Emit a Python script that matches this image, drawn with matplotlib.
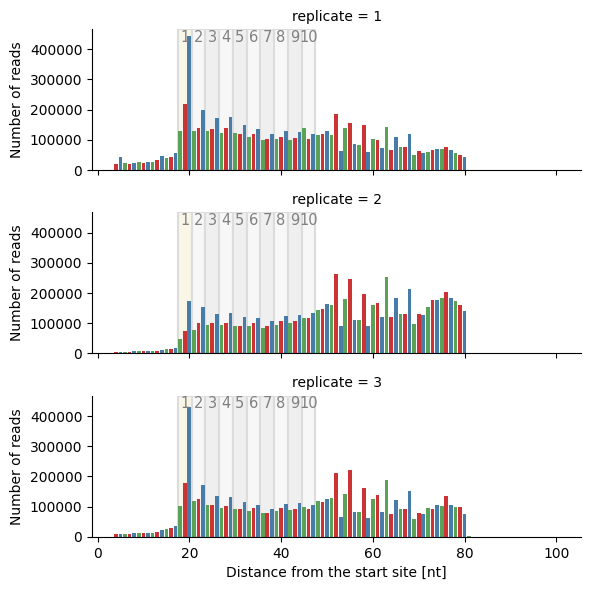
import numpy as np
import matplotlib
matplotlib.use("Agg")
import matplotlib.pyplot as plt

# read counts per position (nt from the start site), positions 4..81
positions = list(range(4, 82))

reads_rep1 = [
    20, 43, 23, 20, 23, 27, 23, 27, 27, 33, 47, 40, 43, 57, 130, 217, 445,
    130, 140, 200, 130, 137, 173, 123, 140, 177, 123, 120, 150, 110, 120, 137,
    100, 103, 120, 103, 110, 130, 100, 107, 127, 140, 103, 120, 117, 120, 130,
    117, 187, 63, 140, 157, 87, 83, 150, 60, 103, 100, 73, 143, 67, 110, 77,
    77, 120, 50, 63, 57, 60, 67, 70, 70, 77, 67, 57, 50, 43, 0,
]
reads_rep2 = [
    4, 4, 4, 4, 8, 8, 8, 8, 8, 8, 11, 14, 14, 19, 47, 74, 173,
    77, 100, 153, 94, 100, 130, 94, 100, 134, 91, 91, 120, 91, 100, 117,
    84, 91, 107, 94, 107, 124, 100, 107, 127, 117, 117, 134, 143, 147, 163,
    160, 263, 91, 180, 246, 110, 110, 196, 91, 160, 167, 120, 253, 120, 183, 130,
    130, 213, 97, 130, 127, 153, 177, 177, 183, 203, 183, 173, 160, 140, 0,
]
reads_rep3 = [
    10, 10, 10, 10, 13, 13, 13, 13, 13, 17, 23, 26, 30, 36, 103, 179, 430,
    119, 126, 172, 106, 106, 136, 96, 103, 132, 93, 93, 116, 86, 96, 106,
    79, 79, 93, 86, 96, 109, 89, 93, 113, 99, 93, 106, 119, 116, 126,
    129, 212, 66, 142, 222, 83, 83, 162, 63, 126, 139, 83, 189, 76, 123, 93,
    93, 152, 60, 79, 76, 96, 93, 106, 103, 136, 106, 99, 99, 76, 3,
]
replicates = [1, 2, 3]
reads = [reads_rep1, reads_rep2, reads_rep3]

# codon windows after the start site
codon_labels = [str(i) for i in range(1, 11)]
codon_start = 17.5

FRAME_COLORS = {0: "#59a257", 1: "#cb3335", 2: "#477ca8"}
SPAN_COLORS = ["#f9f6e8", "#f7f7f7", "#efefef"]

fig, axes = plt.subplots(3, 1, figsize=(5.9, 5.9), dpi=100, sharex=True, sharey=True)
fig.subplots_adjust(left=0.156, right=0.985, top=0.951, bottom=0.090, hspace=0.30)

for ax, rep, vals in zip(axes, replicates, reads):
    vals = np.array(vals) * 1000
    colors = [FRAME_COLORS[p % 3] for p in positions]

    for i, lab in enumerate(codon_labels):
        x0 = codon_start + 3 * i
        if i == 0:
            fc = SPAN_COLORS[0]
        else:
            fc = SPAN_COLORS[1] if i % 2 == 1 else SPAN_COLORS[2]
        ax.axvspan(x0, x0 + 3, facecolor=fc, edgecolor="#dcdcdc", linewidth=1.5, zorder=0)
        ax.text(x0 + 1.5, 425000, lab, ha="center", va="baseline",
                fontsize=10.5, color="#808080", zorder=3)

    ax.bar(positions, vals, width=0.8, color=colors, zorder=2)

    ax.set_title(f"replicate = {rep}", fontsize=10)
    ax.set_ylabel("Number of reads")
    ax.spines["top"].set_visible(False)
    ax.spines["right"].set_visible(False)

axes[0].set_xlim(-1.2, 105.4)
axes[0].set_ylim(0, 467000)
axes[0].set_xticks([0, 20, 40, 60, 80, 100])
axes[0].set_yticks([0, 100000, 200000, 300000, 400000])
axes[-1].set_xlabel("Distance from the start site [nt]")

plt.savefig("out.png", dpi=100)
plt.close()
